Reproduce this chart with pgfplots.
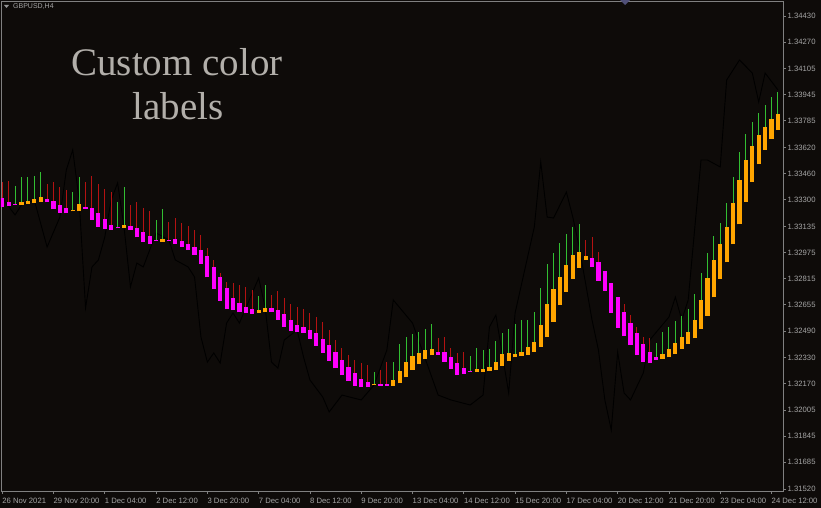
\documentclass[border=0pt]{standalone}
\usepackage{fontspec}
\setmainfont{Liberation Sans}
\newfontfamily\capfont{Liberation Serif}
\usepackage{pgfplots}
\usepackage{pgfplotstable}
\pgfplotsset{compat=1.18}

\definecolor{bg}{RGB}{14,11,9}
\definecolor{frame}{RGB}{128,128,128}
\definecolor{lbl}{RGB}{165,165,165}
\definecolor{haup}{RGB}{255,165,0}
\definecolor{hadn}{RGB}{255,0,255}
\definecolor{wkup}{RGB}{50,190,50}
\definecolor{wkdn}{RGB}{180,18,18}
\definecolor{captxt}{RGB}{178,175,170}
\definecolor{shiftmk}{RGB}{80,80,120}

% Heiken Ashi bodies: bar index, low end, high end
\pgfplotstableread{
i lo hi
3 1.33269 1.33286
4 1.33273 1.33294
5 1.33280 1.33304
6 1.33288 1.33315
11 1.33228 1.33236
12 1.33228 1.33275
19 1.33128 1.33146
25 1.33041 1.33060
40 1.32605 1.32621
41 1.32609 1.32635
58 1.32158 1.32168
61 1.32154 1.32191
62 1.32170 1.32248
63 1.32207 1.32303
64 1.32252 1.32340
65 1.32289 1.32355
66 1.32318 1.32375
67 1.32344 1.32381
74 1.32240 1.32256
75 1.32242 1.32258
76 1.32246 1.32269
77 1.32252 1.32303
78 1.32277 1.32349
79 1.32307 1.32355
80 1.32330 1.32350
81 1.32338 1.32363
82 1.32344 1.32392
83 1.32365 1.32426
84 1.32395 1.32529
85 1.32457 1.32656
86 1.32549 1.32749
87 1.32652 1.32826
88 1.32734 1.32898
89 1.32812 1.32960
90 1.32881 1.32978
91 1.32929 1.32953
103 1.32320 1.32349
104 1.32330 1.32383
105 1.32350 1.32420
106 1.32383 1.32457
107 1.32412 1.32488
108 1.32447 1.32560
109 1.32503 1.32683
110 1.32584 1.32816
111 1.32699 1.32929
112 1.32812 1.33025
113 1.32915 1.33134
114 1.33027 1.33278
115 1.33148 1.33421
116 1.33286 1.33544
117 1.33410 1.33630
118 1.33519 1.33698
119 1.33606 1.33745
120 1.33673 1.33794
121 1.33729 1.33827
}\bodyup

\pgfplotstableread{
i lo hi
0 1.33257 1.33312
1 1.33261 1.33287
2 1.33268 1.33276
7 1.33284 1.33306
8 1.33241 1.33294
9 1.33220 1.33267
10 1.33216 1.33251
13 1.33243 1.33257
14 1.33177 1.33251
15 1.33134 1.33220
16 1.33118 1.33179
17 1.33113 1.33146
18 1.33124 1.33132
20 1.33113 1.33138
21 1.33068 1.33128
22 1.33039 1.33103
23 1.33027 1.33076
24 1.33046 1.33054
26 1.33046 1.33054
27 1.33029 1.33056
28 1.33009 1.33044
29 1.32990 1.33029
30 1.32960 1.33011
31 1.32904 1.32990
32 1.32822 1.32953
33 1.32749 1.32888
34 1.32678 1.32822
35 1.32627 1.32755
36 1.32621 1.32697
37 1.32607 1.32662
38 1.32601 1.32642
39 1.32598 1.32626
42 1.32607 1.32632
43 1.32560 1.32621
44 1.32519 1.32597
45 1.32492 1.32560
46 1.32484 1.32529
47 1.32482 1.32519
48 1.32443 1.32498
49 1.32400 1.32478
50 1.32359 1.32441
51 1.32309 1.32406
52 1.32263 1.32365
53 1.32221 1.32314
54 1.32184 1.32272
55 1.32154 1.32232
56 1.32146 1.32195
57 1.32146 1.32176
59 1.32156 1.32166
60 1.32154 1.32168
68 1.32344 1.32365
69 1.32303 1.32361
70 1.32258 1.32334
71 1.32223 1.32297
72 1.32228 1.32263
73 1.32240 1.32248
92 1.32888 1.32943
93 1.32800 1.32918
94 1.32740 1.32863
95 1.32605 1.32786
96 1.32512 1.32699
97 1.32461 1.32607
98 1.32406 1.32539
99 1.32344 1.32478
100 1.32303 1.32412
101 1.32293 1.32363
102 1.32314 1.32334
}\bodydn

% upper wicks: from body top to high
\pgfplotstableread{
i lo hi
2 1.33276 1.33384
3 1.33286 1.33438
4 1.33294 1.33438
5 1.33304 1.33446
6 1.33315 1.33470
11 1.33236 1.33349
12 1.33275 1.33441
18 1.33132 1.33288
19 1.33146 1.33380
24 1.33054 1.33175
25 1.33060 1.33241
40 1.32621 1.32707
41 1.32635 1.32775
58 1.32168 1.32242
61 1.32191 1.32303
62 1.32248 1.32412
63 1.32303 1.32457
64 1.32340 1.32474
65 1.32355 1.32488
66 1.32375 1.32503
67 1.32381 1.32535
73 1.32248 1.32338
74 1.32256 1.32386
75 1.32258 1.32375
76 1.32269 1.32379
77 1.32303 1.32432
78 1.32349 1.32482
79 1.32355 1.32503
80 1.32350 1.32533
81 1.32363 1.32560
82 1.32392 1.32560
83 1.32426 1.32611
84 1.32529 1.32755
85 1.32656 1.32904
86 1.32749 1.32974
87 1.32826 1.33035
88 1.32898 1.33089
89 1.32960 1.33130
90 1.32978 1.33150
102 1.32334 1.32416
103 1.32349 1.32488
104 1.32383 1.32519
105 1.32420 1.32554
106 1.32457 1.32584
107 1.32488 1.32626
108 1.32560 1.32718
109 1.32683 1.32847
110 1.32816 1.32974
111 1.32929 1.33076
112 1.33025 1.33158
113 1.33134 1.33281
114 1.33278 1.33438
115 1.33421 1.33595
116 1.33544 1.33704
117 1.33630 1.33780
118 1.33698 1.33835
119 1.33745 1.33882
120 1.33794 1.33930
121 1.33827 1.33964
}\wickup

\pgfplotstableread{
i lo hi
0 1.33312 1.33410
1 1.33287 1.33417
7 1.33306 1.33396
8 1.33294 1.33407
9 1.33267 1.33380
10 1.33251 1.33359
13 1.33257 1.33410
14 1.33251 1.33446
15 1.33220 1.33396
16 1.33179 1.33366
17 1.33146 1.33349
20 1.33138 1.33267
21 1.33128 1.33288
22 1.33103 1.33247
23 1.33076 1.33230
26 1.33054 1.33164
27 1.33056 1.33185
28 1.33044 1.33155
29 1.33029 1.33138
30 1.33011 1.33113
31 1.32990 1.33083
32 1.32953 1.33005
33 1.32888 1.32929
34 1.32822 1.32847
35 1.32755 1.32795
36 1.32697 1.32789
37 1.32662 1.32775
38 1.32642 1.32765
39 1.32626 1.32744
42 1.32632 1.32713
43 1.32621 1.32740
44 1.32597 1.32693
45 1.32560 1.32658
46 1.32529 1.32642
47 1.32519 1.32626
48 1.32498 1.32605
49 1.32478 1.32580
50 1.32441 1.32549
51 1.32406 1.32498
52 1.32365 1.32437
53 1.32314 1.32386
54 1.32272 1.32344
55 1.32232 1.32314
56 1.32195 1.32293
57 1.32176 1.32283
59 1.32166 1.32252
60 1.32168 1.32303
68 1.32365 1.32447
69 1.32361 1.32453
70 1.32334 1.32386
71 1.32297 1.32355
72 1.32263 1.32361
91 1.32953 1.33052
92 1.32943 1.33072
93 1.32918 1.32980
97 1.32607 1.32656
98 1.32539 1.32590
99 1.32478 1.32519
100 1.32412 1.32457
101 1.32363 1.32447
}\wickdn

% black close line
\pgfplotstableread{
i c
0 1.33310
2 1.33206
3 1.33267
5 1.33298
7 1.33009
9 1.33193
10 1.33483
11 1.33606
12 1.33298
13 1.32634
14 1.32886
15 1.32929
16 1.33070
17 1.33298
18 1.33403
19 1.33132
20 1.32763
21 1.32910
22 1.32886
23 1.32990
24 1.33095
26 1.33052
27 1.32929
29 1.32886
30 1.32824
31 1.32455
32 1.32301
33 1.32357
34 1.32295
35 1.32541
36 1.32603
37 1.32541
39 1.32726
40 1.32818
41 1.32640
42 1.32301
43 1.32264
44 1.32437
46 1.32498
47 1.32332
48 1.32191
50 1.32086
51 1.31994
53 1.32098
56 1.32068
58 1.32160
60 1.32375
61 1.32683
64 1.32541
67 1.32209
68 1.32098
70 1.32068
73 1.32037
75 1.32098
76 1.32517
77 1.32590
79 1.32111
80 1.32603
83 1.33132
84 1.33532
85 1.33193
86 1.33187
88 1.33347
89 1.33193
90 1.33009
92 1.32560
93 1.32375
94 1.32068
95 1.31883
96 1.32363
97 1.32111
98 1.32068
100 1.32234
101 1.32437
104 1.32578
105 1.32701
106 1.32560
107 1.32683
109 1.33544
110 1.33544
112 1.33501
113 1.34036
115 1.34159
117 1.34079
118 1.33901
119 1.34079
121 1.33975
}\closeline

\pgfplotsset{
  candle/.style 2 args={draw=none, mark=none, forget plot,
    error bars/.cd, y dir=plus, y explicit, error mark=none,
    error bar style={draw=#1, line width=#2, solid}},
}

\begin{document}
\begin{tikzpicture}
\fill[bg] (0,0) rectangle (821pt,508pt);
\begin{axis}[
  at={(1pt,17pt)}, anchor=south west,
  scale only axis, width=782pt, height=490pt,
  xmin=-0.19, xmax=121.79, ymin=1.31508, ymax=1.34522,
  axis background/.style={fill=bg},
  axis line style={draw=frame, line width=0.8pt},
  tick style={draw=frame, line width=0.8pt},
  tick align=outside, major tick length=3pt,
  xtick pos=bottom, ytick pos=right,
  xtick={0,8,...,120},
  xticklabels={26 Nov 2021, 29 Nov 20:00, 1 Dec 04:00, 2 Dec 12:00, 3 Dec 20:00,
    7 Dec 04:00, 8 Dec 12:00, 9 Dec 20:00, 13 Dec 04:00, 14 Dec 12:00,
    15 Dec 20:00, 17 Dec 04:00, 20 Dec 12:00, 21 Dec 20:00, 23 Dec 04:00,
    24 Dec 12:00},
  xticklabel style={anchor=north west, inner sep=0pt, text=lbl, yshift=-3.5pt,
    font=\fontsize{7.7}{8}\selectfont},
  ytick={1.31520,1.31685,1.31845,1.32005,1.32170,1.32330,1.32490,1.32655,
    1.32815,1.32975,1.33135,1.33300,1.33460,1.33620,1.33785,1.33945,
    1.34105,1.34270,1.34430},
  yticklabels={1.31520,1.31685,1.31845,1.32005,1.32170,1.32330,1.32490,1.32655,
    1.32815,1.32975,1.33135,1.33300,1.33460,1.33620,1.33785,1.33945,
    1.34105,1.34270,1.34430},
  yticklabel style={anchor=west, inner sep=0pt, text=lbl, xshift=1.5pt,
    font=\fontsize{7.7}{8}\selectfont},
]
\addplot[black, line width=0.9pt, mark=none, forget plot] table[x=i, y=c] {\closeline};
\addplot[candle={wkup}{1pt}] table[x=i, y=lo, y error expr=\thisrow{hi}-\thisrow{lo}] {\wickup};
\addplot[candle={wkdn}{1pt}] table[x=i, y=lo, y error expr=\thisrow{hi}-\thisrow{lo}] {\wickdn};
\addplot[candle={haup}{4.2pt}] table[x=i, y=lo, y error expr=\thisrow{hi}-\thisrow{lo}] {\bodyup};
\addplot[candle={hadn}{4.2pt}] table[x=i, y=lo, y error expr=\thisrow{hi}-\thisrow{lo}] {\bodydn};
\end{axis}
% symbol name and caption
\fill[lbl!120] (4pt,503pt) -- (9pt,503pt) -- (6.5pt,500pt) -- cycle;
\node[anchor=base west, inner sep=0pt, text=lbl, font=\fontsize{7}{8}\selectfont] at (13pt,499pt) {GBPUSD,H4};
\fill[shiftmk] (620pt,508pt) -- (630pt,508pt) -- (625pt,503pt) -- cycle;
\node[anchor=base, inner sep=0pt, text=captxt, font=\capfont\fontsize{39}{44}\selectfont] at (177pt,432pt) {Custom color};
\node[anchor=base, inner sep=0pt, text=captxt, font=\capfont\fontsize{39}{44}\selectfont] at (178pt,388pt) {labels};
\pgfresetboundingbox
\path[use as bounding box] (0,0) rectangle (821pt,508pt);
\end{tikzpicture}
\end{document}
